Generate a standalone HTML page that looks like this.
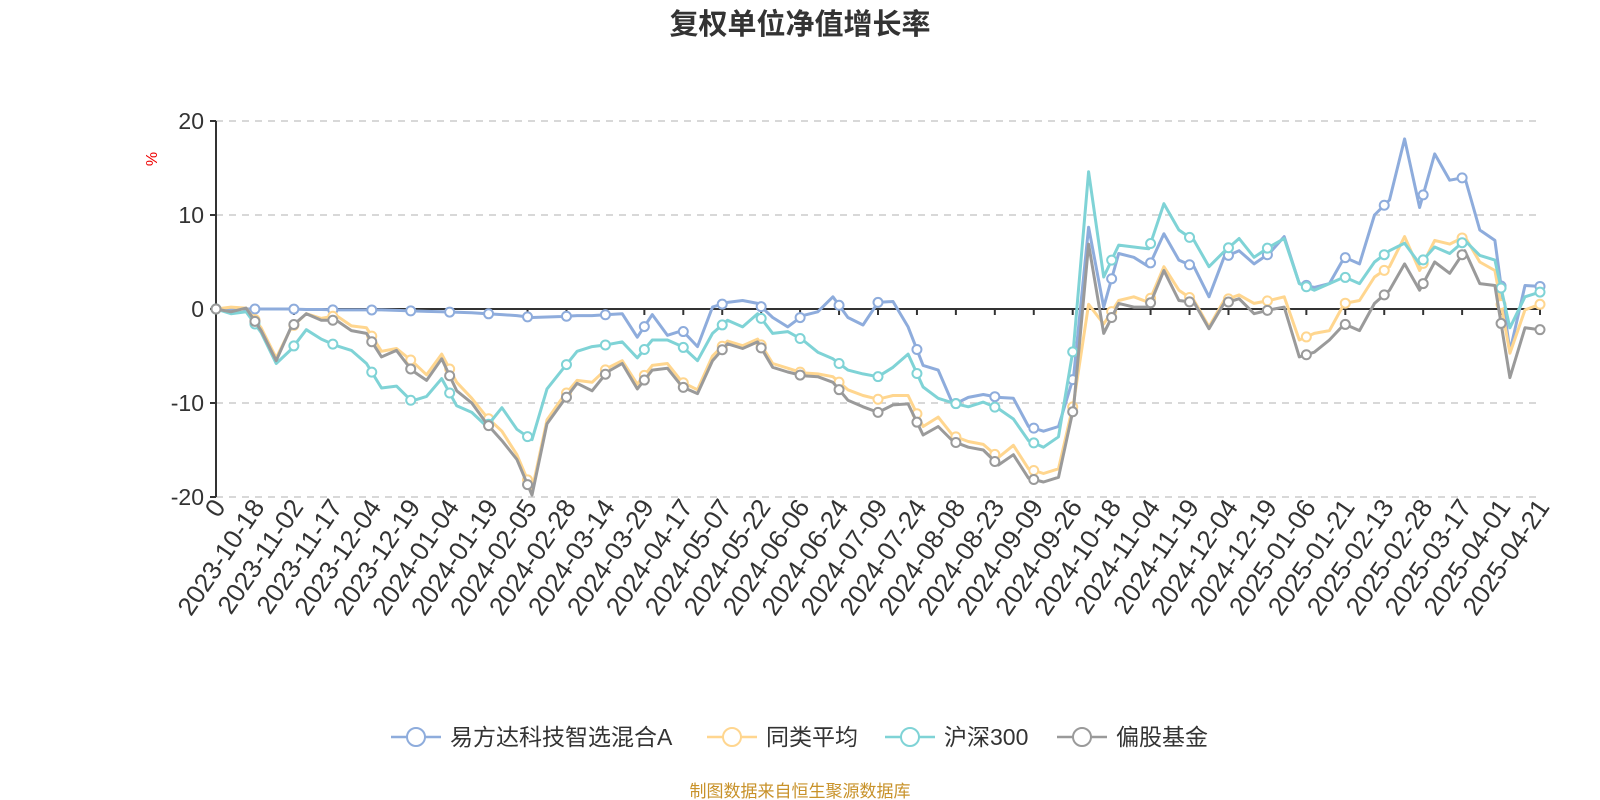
<!DOCTYPE html>
<html><head><meta charset="utf-8">
<style>
html,body{margin:0;padding:0;background:#fff;}
svg{display:block;font-family:"Liberation Sans","Noto Sans CJK SC",sans-serif;}
</style></head>
<body>
<svg id="chart" width="1600" height="800" viewBox="0 0 1600 800" xmlns="http://www.w3.org/2000/svg">
<text x="800" y="34" text-anchor="middle" font-size="29" font-weight="bold" fill="#333">复权单位净值增长率</text>
<text transform="translate(157,159) rotate(-90)" text-anchor="middle" font-size="16" fill="#e00">%</text>
<g id="grid"></g>
<g id="series"></g>
<g id="legend"></g>
<text x="800" y="797" text-anchor="middle" font-size="17" fill="#c8922a">制图数据来自恒生聚源数据库</text>
</svg>
<script>
const tickLabels = ["0","2023-10-18","2023-11-02","2023-11-17","2023-12-04","2023-12-19","2024-01-04","2024-01-19","2024-02-05","2024-02-28","2024-03-14","2024-03-29","2024-04-17","2024-05-07","2024-05-22","2024-06-06","2024-06-24","2024-07-09","2024-07-24","2024-08-08","2024-08-23","2024-09-09","2024-09-26","2024-10-18","2024-11-04","2024-11-19","2024-12-04","2024-12-19","2025-01-06","2025-01-21","2025-02-13","2025-02-28","2025-03-17","2025-04-01","2025-04-21"];
const yTicks = [20,10,0,-10,-20];
const seriesNames = ["易方达科技智选混合A","同类平均","沪深300","偏股基金"];
const fundA = [0,0,0,0,0,0,-0.05,-0.05,-0.1,-0.1,-0.1,-0.1,-0.15,-0.2,-0.25,-0.3,-0.35,-0.4,-0.5,-0.6,-0.7,-0.9,-0.85,-0.8,-0.7,-0.7,-0.6,-0.5,-3.0,-0.6,
-2.8,-2.3,-4.0,0.2,0.7,0.9,0.6,-0.9,-1.9,-0.7,-0.3,1.3,-0.9,-1.7,0.7,0.8,-1.9,-6.0,-6.5,-10.2,-9.4,-9.1,-9.4,-9.5,-12.5,-13.0,-12.5,-7.2,8.7,
0.2,5.9,5.5,4.5,8.0,5.2,4.5,1.3,5.5,6.2,4.8,5.9,7.7,2.7,2.3,2.7,5.5,4.8,10.0,11.6,18.1,10.8,16.5,13.7,14.0,8.4,7.3,-4.5,2.5,2.4];
const peerAvg = [0,0.2,0.1,-2.0,-5.2,-2.0,-0.5,-1.0,-0.7,-1.8,-2.0,-4.5,-4.2,-5.5,-7.0,-4.8,-7.8,-9.5,-11.5,-13.0,-15.5,-19.3,-11.8,-9.5,-7.6,-7.8,-6.3,-5.5,-8.0,-6.0,
-5.8,-7.8,-8.6,-5.0,-3.4,-3.9,-3.2,-5.8,-6.3,-6.8,-6.9,-7.2,-8.6,-9.2,-9.6,-9.2,-9.2,-12.5,-11.5,-13.5,-14.1,-14.4,-15.8,-14.5,-17.0,-17.5,-17.0,-10.0,0.5,
-1.6,0.9,1.3,0.7,4.5,2.0,0.9,-1.9,0.9,1.5,0.6,0.9,1.3,-3.3,-2.6,-2.3,0.6,0.9,3.4,4.5,7.7,4.1,7.3,6.9,7.7,5.0,4.1,-4.7,-0.1,0.5];
const hs300 = [0,-0.5,-0.3,-2.5,-5.8,-4.3,-2.2,-3.2,-3.9,-4.4,-5.8,-8.4,-8.2,-9.8,-9.3,-7.4,-10.3,-11.0,-12.5,-10.5,-12.8,-13.9,-8.5,-6.5,-4.5,-4.0,-3.8,-3.5,-5.2,-3.3,
-3.3,-4.0,-5.5,-2.6,-1.2,-1.9,-0.5,-2.6,-2.4,-3.3,-4.6,-5.3,-6.5,-6.9,-7.2,-6.2,-4.8,-8.3,-9.5,-10.0,-10.4,-9.9,-10.6,-11.7,-14.0,-14.7,-13.6,-4.0,14.6,
3.4,6.8,6.6,6.4,11.2,8.4,7.3,4.5,6.1,7.5,5.5,6.6,7.5,2.7,2.0,2.7,3.4,2.7,5.0,6.2,7.0,4.8,6.6,5.9,7.3,5.7,5.2,-2.0,1.3,1.8];
const equityFund = [0,-0.3,0.1,-2.3,-5.5,-1.9,-0.5,-1.2,-1.2,-2.3,-2.6,-5.1,-4.4,-6.5,-7.6,-5.3,-8.7,-10.0,-12.2,-14.0,-16.0,-19.8,-12.2,-10.0,-7.9,-8.7,-6.7,-5.8,-8.5,-6.5,
-6.3,-8.3,-9.0,-5.5,-3.7,-4.2,-3.5,-6.2,-6.7,-7.1,-7.2,-7.8,-9.7,-10.4,-11.0,-10.2,-10.1,-13.4,-12.5,-14.1,-14.7,-15.0,-16.6,-15.5,-18.0,-18.4,-17.9,-10.5,6.9,
-2.6,0.6,0.2,0.2,4.1,0.9,0.7,-2.1,0.6,1.1,-0.5,-0.1,0.2,-5.1,-4.6,-3.3,-1.6,-2.3,0.6,2.0,4.8,2.0,5.0,3.8,6.2,2.7,2.5,-7.3,-2.0,-2.2];

const NS="http://www.w3.org/2000/svg";
const X0=216, X1=1540, Y0=309, PPU=9.4;
function yScale(v){return Y0 - v*PPU;}
function xScale(i,n){return X0 + i*(X1-X0)/(n-1);}
function mk(tag,attrs,parent){const e=document.createElementNS(NS,tag);for(const k in attrs)e.setAttribute(k,attrs[k]);parent.appendChild(e);return e;}

const grid=document.getElementById('grid');
yTicks.forEach(t=>{
  const y=yScale(t);
  if(t!==0){
    const gl=mk('line',{x1:X0,x2:X1,y1:y,y2:y,stroke:'#ccc','stroke-width':1.5,'stroke-dasharray':'7,6'},grid);
    
    
  }
  const tk=mk('line',{x1:X0-6,x2:X0,y1:y,y2:y,stroke:'#333','stroke-width':2},grid);
  
  
  const lb=mk('text',{x:X0-12,y:y+8,'text-anchor':'end','font-size':23,fill:'#333'},grid);
  lb.textContent=t;
  
  
});
const ya=mk('line',{x1:X0,x2:X0,y1:yScale(20),y2:yScale(-20),stroke:'#333','stroke-width':2},grid);


const xa=mk('line',{x1:X0,x2:X1,y1:Y0,y2:Y0,stroke:'#333','stroke-width':2},grid);


const nl=tickLabels.length;
tickLabels.forEach((lab,k)=>{
  const x=xScale(k,nl);
  const tk=mk('line',{x1:x,x2:x,y1:Y0,y2:Y0+6,stroke:'#333','stroke-width':2},grid);
  
  
  const t=mk('text',{transform:'translate('+(x+3)+',502) rotate(-56)','text-anchor':'end','dominant-baseline':'central','font-size':26,fill:'#333'},grid);
  t.textContent=lab;
  
  
});

const colors=['#8eacdc','#ffd68f','#7fd3d6','#9a9a9a'];
const data=[fundA,peerAvg,hs300,equityFund];
const sg=document.getElementById('series');
data.forEach((arr,s)=>{
  const n=arr.length;
  const pts=arr.map((v,i)=>xScale(i,n).toFixed(1)+','+yScale(v).toFixed(1)).join(' ');
  const pl=mk('polyline',{points:pts,fill:'none',stroke:colors[s],'stroke-width':3,'stroke-linejoin':'round'},sg);
  
  
  for(let k=0;k<nl;k++){
    const pos=k*(n-1)/(nl-1);
    const a=Math.floor(pos), b=Math.min(n-1,a+1), f=pos-a;
    const v=arr[a]*(1-f)+arr[b]*f;
    const c=mk('circle',{cx:xScale(pos,n),cy:yScale(v),r:4.5,fill:'#fff',stroke:colors[s],'stroke-width':2},sg);
    
    
  }
});

const lg=document.getElementById('legend');
const lx=[391,707,885,1057];
seriesNames.forEach((nm,s)=>{
  const g=mk('g',{},lg);
  
  
  mk('line',{x1:lx[s],x2:lx[s]+50,y1:737,y2:737,stroke:colors[s],'stroke-width':2.5},g);
  mk('circle',{cx:lx[s]+25,cy:737,r:9,fill:'#fff',stroke:colors[s],'stroke-width':2},g);
  const t=mk('text',{x:lx[s]+59,y:745,'font-size':23,fill:'#333'},g);
  t.textContent=nm;
});
</script>
</body></html>
